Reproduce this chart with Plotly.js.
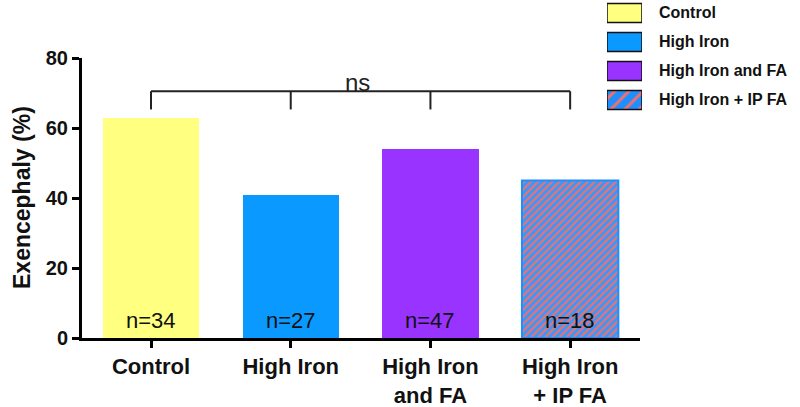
<!DOCTYPE html>
<html>
<head>
<meta charset="utf-8">
<script src="https://cdn.plot.ly/plotly-3.0.1.min.js"></script>
<style>html,body{margin:0;padding:0;background:#fff;}#chart{width:800px;height:407px;}</style>
</head>
<body>
<div id="chart"></div>
<script>
// Data
const categories = ["Control", "High Iron", "High Iron and FA", "High Iron + IP FA"];
const tickLabels = ["Control", "High Iron", "High Iron<br>and FA", "High Iron<br>+ IP FA"];
const exencephaly = [63, 41, 54, 45];
const nLabels = ["n=34", "n=27", "n=47", "n=18"];
const bracketLevel = 70.5;
const bracketDrop = 65.3;
const sigLabel = "ns";

// Styles
const fills = ["#FFFF80", "#0A99FF", "#9933FF", "#3399FF"];
const lineCols = ["#FFFF80", "#0A99FF", "#9933FF", "#1E8FFF"];
const hatchFg = "#EE7070";
const FONT = "Liberation Sans, Arial, sans-serif";

const W = 800, H = 407;
const px = v => v / W;
const py = v => (H - v) / H;

const traces = [];
categories.forEach((c, i) => {
  const pat = i === 3 ? {shape: "/", bgcolor: "#3399FF", fgcolor: hatchFg, size: 5, solidity: 0.45} : {shape: ""};
  traces.push({
    type: "bar", x: [i], y: [exencephaly[i]], width: 0.69,
    marker: {color: fills[i], line: {color: lineCols[i], width: i === 3 ? 2 : 0}, pattern: pat},
    xaxis: "x", yaxis: "y", showlegend: false, hoverinfo: "skip"
  });
  const patL = i === 3 ? {shape: "/", bgcolor: "#1E8FFF", fgcolor: hatchFg, size: 10, solidity: 0.3} : {shape: ""};
  traces.push({
    type: "bar", orientation: "h", y: [c], x: [1], width: 0.65,
    marker: {color: i === 3 ? "#1E8FFF" : fills[i], line: {color: "#111", width: 1.5}, pattern: patL},
    xaxis: "x2", yaxis: "y2", showlegend: false, hoverinfo: "skip"
  });
});

const annotations = [];
categories.forEach((c, i) => {
  annotations.push({x: i, y: 0, xref: "x", yref: "y", text: nLabels[i], showarrow: false,
    yanchor: "bottom", yshift: 3, font: {family: FONT, size: 22, color: "#111"}});
  annotations.push({x: px(657), xref: "paper", y: c, yref: "y2", text: c, showarrow: false,
    xanchor: "left", font: {family: FONT, size: 16, color: "#111", weight: "bold"}});
});
annotations.push({x: 1.48, y: bracketLevel, xref: "x", yref: "y", text: sigLabel, showarrow: false,
  yanchor: "bottom", yshift: -7, font: {family: FONT, size: 24, color: "#222"}});
annotations.push({x: px(22), y: py(198), xref: "paper", yref: "paper", text: "Exencephaly (%)", textangle: -90,
  xanchor: "center", yanchor: "middle",
  showarrow: false, font: {family: FONT, size: 23, color: "#111", weight: "bold"}});

const shapes = [];
shapes.push({type: "line", xref: "x", yref: "y", x0: 0, x1: categories.length - 1, y0: bracketLevel, y1: bracketLevel,
  line: {color: "#222", width: 2}});
categories.forEach((c, i) => {
  shapes.push({type: "line", xref: "x", yref: "y", x0: i, x1: i, y0: bracketLevel, y1: bracketDrop,
    line: {color: "#222", width: 2}});
});

const layout = {
  width: W, height: H,
  margin: {l: 0, r: 0, t: 0, b: 0},
  paper_bgcolor: "#fff", plot_bgcolor: "rgba(0,0,0,0)",
  bargap: 0, showlegend: false,
  xaxis: {
    domain: [px(82), px(640)], range: [-0.494, 3.5],
    tickmode: "array", tickvals: [0, 1, 2, 3], ticktext: tickLabels,
    showline: true, linecolor: "#000", linewidth: 3, ticks: "outside", ticklen: 7, tickwidth: 3, tickcolor: "#000",
    showgrid: false, zeroline: false, fixedrange: true,
    tickfont: {family: FONT, size: 22, color: "#111", weight: "bold"}
  },
  yaxis: {
    domain: [py(338), py(58)], range: [0, 80],
    tickvals: [0, 20, 40, 60, 80],
    showline: true, linecolor: "#000", linewidth: 3, ticks: "outside", ticklen: 7, tickwidth: 3, tickcolor: "#000",
    showgrid: false, zeroline: false, fixedrange: true,
    tickfont: {family: FONT, size: 20, color: "#111", weight: "bold"}
  },
  xaxis2: {domain: [px(607), px(642)], range: [0, 1], visible: false, fixedrange: true, anchor: "y2"},
  yaxis2: {domain: [py(116), 1], type: "category", categoryorder: "array", categoryarray: categories,
    range: [3.552, -0.448], visible: false, fixedrange: true, anchor: "x2"},
  shapes: shapes,
  annotations: annotations
};

Plotly.newPlot("chart", traces, layout, {displayModeBar: false, staticPlot: true});
</script>
</body>
</html>
